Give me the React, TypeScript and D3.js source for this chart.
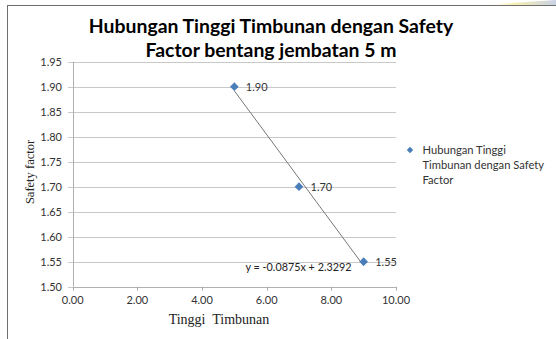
import React from "react";
import * as d3 from "d3";

// Chart data
const tinggi = [5, 7, 9];
const safety = [1.9, 1.7, 1.55];
const xTicks = [0, 2, 4, 6, 8, 10];
const yTicks = [1.5, 1.55, 1.6, 1.65, 1.7, 1.75, 1.8, 1.85, 1.9, 1.95];
const slope = -0.0875;
const intercept = 2.3292;
const titleLines = ["Hubungan Tinggi Timbunan dengan Safety", "Factor bentang jembatan 5 m"];
const legendLines = ["Hubungan Tinggi", "Timbunan dengan Safety", "Factor"];

const W = 556;
const H = 339;
const sans = "Lato, 'Open Sans', sans-serif";
const serif = "'Liberation Serif', 'Times New Roman', serif";
const blue = "#4a7ebb";

export default function App() {
  const x = d3.scaleLinear().domain([0, 10]).range([72.7, 396]);
  const y = d3.scaleLinear().domain([1.5, 1.95]).range([286.7, 61.7]);
  const diamond = d3.symbol().type(d3.symbolDiamond2).size(48)() as string;
  const trendX = [d3.min(tinggi)!, d3.max(tinggi)!];

  return (
    <svg
      width={W}
      height={H}
      style={{ position: "absolute", left: 0, top: 0, background: "#fff" }}
    >
      <defs>
        <linearGradient id="band" x1="0" x2="1" y1="0" y2="0">
          <stop offset="0" stopColor="#fff" stopOpacity={0} />
          <stop offset="0.45" stopColor="#f7efb0" />
          <stop offset="1" stopColor="#c9d2e6" />
        </linearGradient>
      </defs>
      <polygon points="480,5 556,0 556,5" fill="url(#band)" />
      {/* chart frame */}
      <rect x={7.5} y={5.5} width={W} height={H} fill="#fff" stroke="#6e6e6e" strokeWidth={1} />

      {/* title */}
      {titleLines.map((t, i) => (
        <text
          key={t}
          x={271}
          y={32.5 + i * 24.5}
          textAnchor="middle"
          fontFamily={sans}
          fontWeight={700}
          fontSize={19.4}
          fill="#000"
        >
          {t}
        </text>
      ))}

      {/* gridlines and y ticks */}
      {yTicks.map((v) => (
        <g key={v}>
          <line x1={68} x2={x(10)} y1={Math.round(y(v)) + 0.5} y2={Math.round(y(v)) + 0.5} stroke="#c8c8c8" />
          <text
            x={62}
            y={y(v) + 4}
            textAnchor="end"
            fontFamily={sans}
            fontSize={11}
            fill="#333"
          >
            {v.toFixed(2)}
          </text>
        </g>
      ))}
      {/* axes */}
      <line x1={Math.round(x(0)) + 0.5} x2={Math.round(x(0)) + 0.5} y1={y(1.95)} y2={y(1.5)} stroke="#b0b0b0" />
      <line x1={x(0)} x2={x(10)} y1={Math.round(y(1.5)) + 0.5} y2={Math.round(y(1.5)) + 0.5} stroke="#b0b0b0" />
      {xTicks.map((v) => (
        <g key={v}>
          <line x1={Math.round(x(v)) + 0.5} x2={Math.round(x(v)) + 0.5} y1={y(1.5)} y2={y(1.5) + 4} stroke="#b0b0b0" />
          <text x={x(v)} y={303.5} textAnchor="middle" fontFamily={sans} fontSize={11} fill="#333">
            {v.toFixed(2)}
          </text>
        </g>
      ))}

      {/* axis titles */}
      <text x={219} y={323.5} textAnchor="middle" fontFamily={serif} fontSize={14} fill="#222" xmlSpace="preserve">
        {"Tinggi  Timbunan"}
      </text>
      <text
        transform={`translate(34,172) rotate(-90)`}
        textAnchor="middle"
        fontFamily={serif}
        fontSize={12.5}
        fill="#222"
      >
        Safety factor
      </text>

      {/* linear trendline */}
      <line
        x1={x(trendX[0])}
        y1={y(slope * trendX[0] + intercept)}
        x2={x(trendX[1])}
        y2={y(slope * trendX[1] + intercept)}
        stroke="#777"
        strokeWidth={1}
      />
      <text x={298.5} y={270.5} textAnchor="middle" fontFamily={sans} fontSize={10.8} fill="#222">
        {`y = ${slope}x + ${intercept}`}
      </text>

      {/* points and value labels */}
      {tinggi.map((t, i) => (
        <g key={t}>
          <path d={diamond} transform={`translate(${x(t)},${y(safety[i])})`} fill={blue} />
          <text x={x(t) + 11.5} y={y(safety[i]) + 4} fontFamily={sans} fontSize={11} fill="#333">
            {safety[i].toFixed(2)}
          </text>
        </g>
      ))}

      {/* legend */}
      <path d={d3.symbol().type(d3.symbolDiamond2).size(26)() as string} transform="translate(410,150)" fill={blue} />
      {legendLines.map((l, i) => (
        <text key={l} x={422.5} y={153.5 + i * 15} fontFamily={sans} fontSize={11.2} fill="#333">
          {l}
        </text>
      ))}
    </svg>
  );
}
